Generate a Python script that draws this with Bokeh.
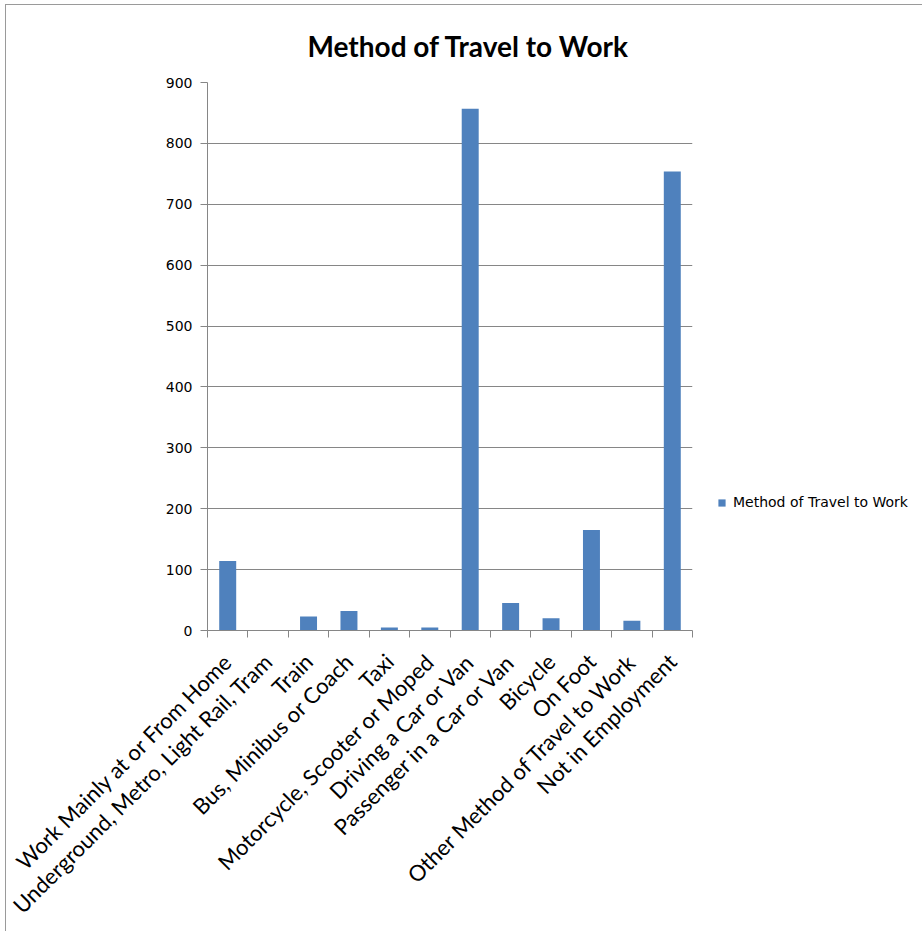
import math
from bokeh.plotting import figure
from bokeh.models import (Range1d, FixedTicker, LinearAxis, Legend, LegendItem,
                          ColumnDataSource, Grid)
from bokeh.embed import file_html
from bokeh.resources import INLINE

categories = [
    "Work Mainly at or From Home",
    "Underground, Metro, Light Rail, Tram",
    "Train",
    "Bus, Minibus or Coach",
    "Taxi",
    "Motorcycle, Scooter or Moped",
    "Driving a Car or Van",
    "Passenger in a Car or Van",
    "Bicycle",
    "On Foot",
    "Other Method of Travel to Work",
    "Not in Employment",
]
values = [114, 0, 23, 32, 5, 5, 857, 45, 20, 165, 16, 754]
y_ticks = [0, 100, 200, 300, 400, 500, 600, 700, 800, 900]
series_name = "Method of Travel to Work"
title_text = "Method of Travel to Work"

n = len(categories)
centers = [i + 0.5 for i in range(n)]
boundaries = list(range(n + 1))
src = ColumnDataSource(dict(x=centers, top=values, cat=categories))

GRAY = "#868686"
BLUE = "#4F81BD"

p = figure(frame_width=485, frame_height=548, output_backend="svg",
           toolbar_location=None,
           x_range=Range1d(0, n), y_range=Range1d(y_ticks[0], y_ticks[-1]),
           x_axis_type=None, y_axis_type=None,
           min_border_left=201, min_border_top=77, min_border_right=220,
           min_border_bottom=290)
p.outline_line_color = None
p.background_fill_color = "white"
p.border_fill_color = "white"
p.styles = {"border-left": "1px solid #9a9a9a", "border-top": "1px solid #9a9a9a",
            "margin-left": "5px", "margin-top": "4px"}

p.title.text = title_text
p.title.text_font = "Lato"
p.title.text_font_style = "bold"
p.title.text_font_size = "28px"
p.title.text_color = "black"
p.title.align = "left"
p.title.offset = 100
p.title.standoff = 40

yticker = FixedTicker(ticks=y_ticks)
yaxis = LinearAxis(ticker=yticker)
yaxis.axis_line_color = GRAY
yaxis.major_tick_line_color = GRAY
yaxis.major_tick_out = 7
yaxis.major_tick_in = 0
yaxis.minor_tick_line_color = None
yaxis.major_label_text_font = "DejaVu Sans"
yaxis.major_label_text_font_size = "14px"
yaxis.major_label_text_color = "black"
yaxis.major_label_standoff = 8
p.add_layout(yaxis, "left")

p.add_layout(Grid(dimension=1, ticker=yticker, grid_line_color=GRAY,
                  grid_line_width=1))

xaxis = LinearAxis(ticker=FixedTicker(ticks=centers, minor_ticks=boundaries))
xaxis.major_label_overrides = {c: lab for c, lab in zip(centers, categories)}
xaxis.axis_line_color = GRAY
xaxis.major_tick_in = 0
xaxis.major_tick_out = 0
xaxis.minor_tick_line_color = GRAY
xaxis.minor_tick_in = 0
xaxis.minor_tick_out = 7
xaxis.major_label_orientation = math.pi / 4
xaxis.major_label_text_font = "Lato"
xaxis.major_label_text_font_size = "22px"
xaxis.major_label_text_color = "black"
xaxis.major_label_standoff = 20
p.add_layout(xaxis, "below")

r = p.vbar(x="x", top="top", width=0.42, source=src, fill_color=BLUE,
           line_color=None)

legend = Legend(items=[LegendItem(label=series_name, renderers=[r])],
                location=(25, 120), orientation="vertical")
legend.border_line_color = None
legend.background_fill_alpha = 0
legend.padding = 0
legend.margin = 0
legend.glyph_width = 9
legend.glyph_height = 9
legend.label_standoff = 7
legend.label_text_font = "DejaVu Sans"
legend.label_text_font_size = "14px"
legend.label_text_color = "black"
p.add_layout(legend, "right")

open("out.html", "w").write(file_html(p, INLINE))
